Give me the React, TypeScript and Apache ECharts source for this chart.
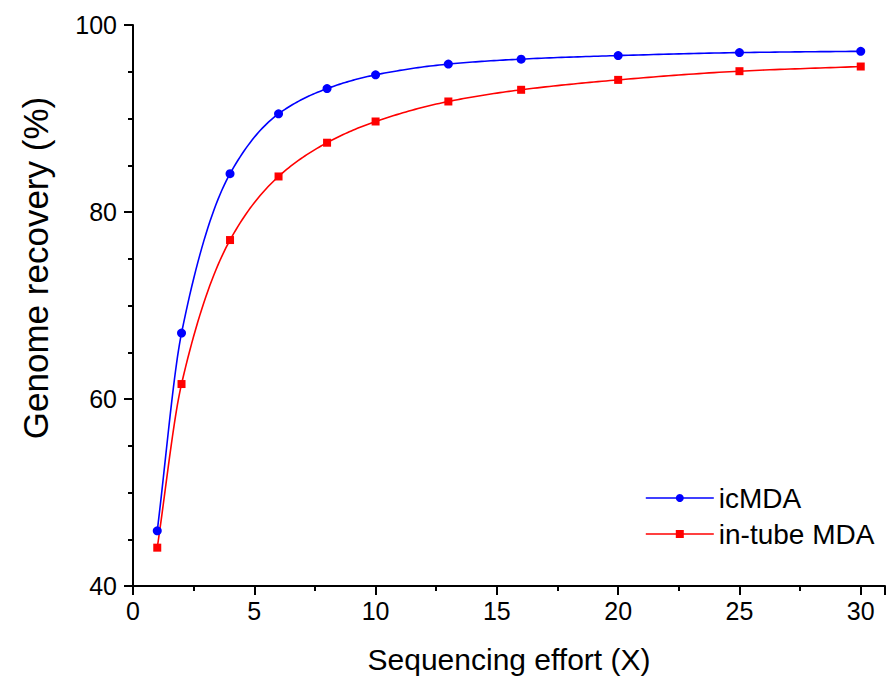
import React, { useEffect, useRef } from "react";
import * as echarts from "echarts";

const xValues = [1, 2, 4, 6, 8, 10, 13, 16, 20, 25, 30];
const icMDA = [45.9, 67.05, 84.1, 90.5, 93.2, 94.67, 95.82, 96.35, 96.73, 97.05, 97.19];
const inTubeMDA = [44.1, 61.6, 77.0, 83.8, 87.41, 89.68, 91.82, 93.07, 94.13, 95.06, 95.56];
const seriesNames = ["icMDA", "in-tube MDA"];
const seriesColors = ["#0000ff", "#ff0000"];
const xTitle = "Sequencing effort (X)";
const yTitle = "Genome recovery (%)";

const FONT = "'Liberation Sans', Arial, sans-serif";

// Monotone cubic (Fritsch-Carlson) curve through the data points, for drawing only.
function splinePath(xs: number[], ys: number[], steps = 24): number[][] {
  const n = xs.length;
  const h: number[] = [];
  const d: number[] = [];
  for (let i = 0; i < n - 1; i++) {
    h.push(xs[i + 1] - xs[i]);
    d.push((ys[i + 1] - ys[i]) / h[i]);
  }
  const m: number[] = new Array(n).fill(0);
  for (let i = 1; i < n - 1; i++) {
    if (d[i - 1] * d[i] <= 0) m[i] = 0;
    else {
      const w1 = 2 * h[i] + h[i - 1];
      const w2 = h[i] + 2 * h[i - 1];
      m[i] = (w1 + w2) / (w1 / d[i - 1] + w2 / d[i]);
    }
  }
  m[0] = d[0];
  m[n - 1] = d[n - 2];
  const out: number[][] = [];
  for (let i = 0; i < n - 1; i++) {
    for (let s = 0; s < steps; s++) {
      const t = s / steps;
      const t2 = t * t;
      const t3 = t2 * t;
      const h00 = 2 * t3 - 3 * t2 + 1;
      const h10 = t3 - 2 * t2 + t;
      const h01 = -2 * t3 + 3 * t2;
      const h11 = t3 - t2;
      out.push([
        xs[i] + t * h[i],
        h00 * ys[i] + h10 * h[i] * m[i] + h01 * ys[i + 1] + h11 * h[i] * m[i + 1],
      ]);
    }
  }
  out.push([xs[n - 1], ys[n - 1]]);
  return out;
}

export default function App() {
  const ref = useRef<HTMLDivElement>(null);
  useEffect(() => {
    if (!ref.current) return;
    const chart = echarts.init(ref.current, undefined, { renderer: "svg" });
    const axisCommon = {
      axisLine: { show: true, lineStyle: { color: "#000", width: 2 } },
      axisTick: { show: true, inside: false, length: 9, lineStyle: { color: "#000", width: 2 } },
      minorTick: { show: true, length: 5, lineStyle: { color: "#000", width: 2 } },
      splitLine: { show: false },
      axisLabel: { color: "#000", fontSize: 25, fontFamily: FONT },
      nameTextStyle: { color: "#000", fontFamily: FONT },
    };
    const datasets = [icMDA, inTubeMDA];
    const curveSeries = datasets.map((ys, k) => ({
      name: seriesNames[k] + " curve",
      type: "custom",
      data: xValues.map((x, i) => [x, ys[i]]),
      z: 1,
      renderItem: (params: any, api: any) => {
        if (params.dataIndex !== 0) return null;
        const pts = splinePath(xValues, ys).map((p) => api.coord(p));
        return {
          type: "polyline",
          shape: { points: pts },
          style: { stroke: seriesColors[k], lineWidth: 1.6, fill: null },
        };
      },
    }));
    const markerSeries = datasets.map((ys, k) => ({
      name: seriesNames[k],
      type: "line",
      data: xValues.map((x, i) => [x, ys[i]]),
      z: 3,
      symbol: k === 0 ? "circle" : "rect",
      symbolSize: k === 0 ? 9 : 8,
      itemStyle: { color: seriesColors[k] },
      lineStyle: { color: seriesColors[k], width: 1.6, opacity: 0 },
    }));
    chart.setOption({
      animation: false,
      backgroundColor: "#fff",
      textStyle: { fontFamily: FONT },
      grid: { left: 133, right: 0, top: 25, bottom: 86, containLabel: false },
      graphic: [
        {
          type: "text",
          x: 35,
          y: 268,
          rotation: Math.PI / 2,
          style: {
            text: yTitle,
            fill: "#000",
            fontSize: 35,
            fontFamily: FONT,
            align: "center",
            verticalAlign: "middle",
          },
        },
      ],
      xAxis: {
        type: "value",
        min: 0,
        max: 31,
        interval: 5,
        ...axisCommon,
        minorTick: { ...axisCommon.minorTick, splitNumber: 2 },
        axisLabel: {
          ...axisCommon.axisLabel,
          margin: 12,
          formatter: (v: number) => (v % 5 === 0 && v <= 30 ? String(v) : ""),
        },
        name: xTitle,
        nameLocation: "middle",
        nameGap: 58,
        nameTextStyle: { ...axisCommon.nameTextStyle, fontSize: 30 },
      },
      yAxis: {
        type: "value",
        min: 40,
        max: 100,
        interval: 20,
        ...axisCommon,
        minorTick: { ...axisCommon.minorTick, splitNumber: 4 },
        axisLabel: { ...axisCommon.axisLabel, margin: 16 },
      },
      legend: {
        orient: "vertical",
        left: 640,
        top: 479,
        itemWidth: 68,
        itemHeight: 10,
        itemGap: 8,
        textStyle: { color: "#000", fontSize: 28, fontFamily: FONT },
        data: seriesNames.map((name, k) => ({
          name,
          lineStyle: { color: seriesColors[k], width: 1.6, opacity: 1 },
        })),
      },
      series: [...curveSeries, ...markerSeries],
    });
    return () => chart.dispose();
  }, []);
  return <div ref={ref} style={{ width: 888, height: 679, position: "absolute", left: 0, top: 0 }} />;
}
